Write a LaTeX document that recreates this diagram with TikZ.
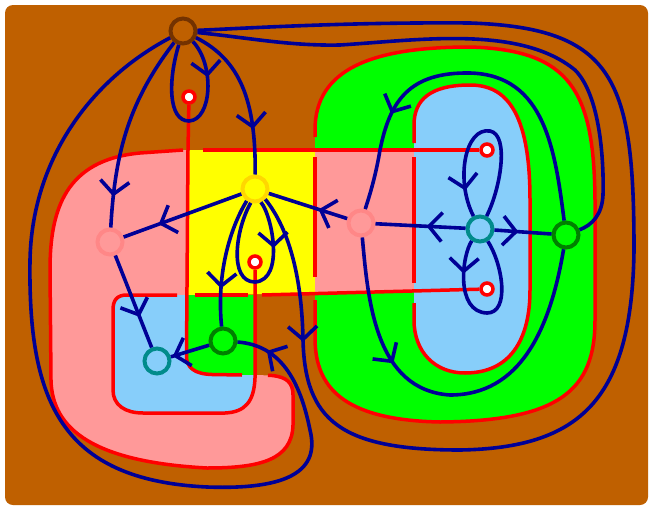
\documentclass[tikz,border=0pt]{standalone}
\usetikzlibrary{arrows.meta,decorations.markings}
\definecolor{bgbrown}{RGB}{191,96,0}
\definecolor{nbrownd}{RGB}{115,50,0}
\definecolor{pinkc}{RGB}{255,153,153}
\definecolor{pinkd}{RGB}{255,135,135}
\definecolor{lblue}{RGB}{135,206,250}
\definecolor{tealc}{RGB}{0,139,139}
\definecolor{greenc}{RGB}{0,255,0}
\definecolor{greend}{RGB}{0,128,0}
\definecolor{yellowc}{RGB}{255,255,0}
\definecolor{goldc}{RGB}{255,215,0}
\definecolor{navyc}{RGB}{0,0,150}
\definecolor{redc}{RGB}{255,0,0}
\tikzset{
  redline/.style={draw=redc,line width=3.5pt},
  edge/.style={draw=navyc,line width=3.6pt},
  arr/.style={postaction={decorate},decoration={markings,mark=at position #1 with {\arrow{Straight Barb[length=13pt,width=29pt]}}}},
  vtx/.style={circle,minimum size=25pt,inner sep=0pt,line width=4pt},
  cutpt/.style={circle,minimum size=12pt,inner sep=0pt,line width=3.5pt,draw=redc,fill=white},
}
\begin{document}
\begin{tikzpicture}[x=1pt,y=-1pt]
\useasboundingbox (0,0) rectangle (650,506);
\fill[white] (0,0) rectangle (650,506);
\fill[bgbrown,rounded corners=8pt] (5,5) rectangle (648,505);
% regions
\fill[pinkc] (188,150) -- (183,150) -- (140,153) .. controls (65,160) and (50,210) .. (50,270) -- (51,380) .. controls (52,430) and (95,462) .. (207,468) .. controls (260,468) and (292,460) .. (293,425) -- (293,395) .. controls (293,383) and (287,377) .. (272,375.5) -- (255,375) -- (255,295) -- (188,295) -- cycle;
\fill[lblue] (255,295) -- (127,295) .. controls (117,295) and (113,300) .. (113,310) -- (113,390) .. controls (113,405) and (125,413) .. (143,413) -- (225,413) .. controls (245,412) and (254,402) .. (255,378) -- cycle;
\fill[greenc] (188,295) -- (186.5,355) .. controls (186,368) and (195,374) .. (212,374.5) -- (255,375) -- (255,295) -- cycle;
\fill[yellowc] (188,150) -- (315,150) -- (315,293.6) -- (188,295) -- cycle;
\fill[greenc] (315,293) -- (315,340) .. controls (316,385) and (340,420) .. (440,422) .. controls (560,421) and (595,390) .. (595,320) -- (595,200) .. controls (594,90) and (570,50) .. (470,47) .. controls (370,47) and (315,70) .. (315,130) -- cycle;
\fill[pinkc] (315,150) -- (414,150) -- (414,290.9) -- (315,293.6) -- cycle;
\fill[lblue] (414,150) -- (414,320) .. controls (414,352) and (435,373) .. (465,373) .. controls (510,373) and (530,340) .. (530,290) -- (530,200) .. controls (530,110) and (505,85) .. (470,85) .. controls (430,85) and (414,100) .. (414,125) -- cycle;
% cut points
\node[cutpt] (C1) at (189,97) {};
\node[cutpt] (C2) at (255,262) {};
\node[cutpt] (C3) at (487,150) {};
\node[cutpt] (C4) at (487,289) {};
% red boundaries
\draw[redline] (C1) -- (188,150) -- (186.5,355) .. controls (186,368) and (195,374) .. (212,374.5) -- (242,375);
\draw[redline] (268,375.3) -- (272,375.5) .. controls (287,377) and (293,383) .. (293,395) -- (293,425) .. controls (292,460) and (260,468) .. (207,468) .. controls (95,462) and (52,430) .. (51,380) -- (50,270) .. controls (50,210) and (65,160) .. (140,153) -- (183,150);
\draw[redline] (203,150) -- (C3);
\draw[redline] (C2) -- (255,378) .. controls (254,402) and (245,412) .. (225,413) -- (143,413) .. controls (125,413) and (113,405) .. (113,390) -- (113,310) .. controls (113,300) and (117,295) .. (127,295) -- (177,295);
\draw[redline] (195,295) -- (248,295);
\draw[redline] (262,295) -- (C4);
\draw[redline] (315,157) -- (315,277);
\draw[redline] (315,300) -- (315,340) .. controls (316,385) and (340,420) .. (440,422) .. controls (560,421) and (595,390) .. (595,320) -- (595,200) .. controls (594,90) and (570,50) .. (470,47) .. controls (370,47) and (315,70) .. (315,130) -- (315,137);
\draw[redline] (414,157) -- (414,283);
\draw[redline] (414,303) -- (414,320) .. controls (414,352) and (435,373) .. (465,373) .. controls (510,373) and (530,340) .. (530,290) -- (530,200) .. controls (530,110) and (505,85) .. (470,85) .. controls (430,85) and (414,100) .. (414,125) -- (414,143);
% vertices
\node[vtx,fill=bgbrown,draw=nbrownd] (N0) at (183,31) {};
\node[vtx,fill=yellowc,draw=goldc] (Y) at (255,189) {};
\node[vtx,fill=pinkc,draw=pinkd] (P1) at (110,242) {};
\node[vtx,fill=pinkc,draw=pinkd] (P2) at (361,223) {};
\node[vtx,fill=lblue,draw=tealc] (B1) at (157,361) {};
\node[vtx,fill=lblue,draw=tealc] (B2) at (480,229) {};
\node[vtx,fill=greenc,draw=greend] (G1) at (223,341) {};
\node[vtx,fill=greenc,draw=greend] (G2) at (566,235) {};
% edges
\draw[edge,arr=168pt] (N0) .. controls (130,100) and (115,150) .. (P1);
\draw[edge,arr=39pt] (N0) .. controls (215,65) and (212,120) .. (189,121) .. controls (168,121) and (168,80) .. (N0);
\draw[edge,arr=113pt] (N0) .. controls (240,60) and (256,100) .. (Y);
\draw[edge,arr=-31pt] (N0) .. controls (90,80) and (32,160) .. (30,260) .. controls (28,400) and (60,480) .. (207,487) .. controls (290,490) and (320,470) .. (310,430) .. controls (300,380) and (280,345) .. (G1);
\draw[edge,arr=150pt] (Y.-45) .. controls (290,230) and (302,280) .. (303,340) .. controls (305,420) and (340,450) .. (460,450) .. controls (580,448) and (632,400) .. (634,250) .. controls (634,80) and (615,28) .. (470,23) .. controls (350,22) and (250,28) .. (N0);
\draw[edge] (N0) .. controls (250,38) and (290,46) .. (340,45) .. controls (420,40) and (520,25) .. (575,70) .. controls (600,95) and (604,160) .. (603,195) .. controls (602,215) and (592,225) .. (G2);
\draw[edge,arr=88pt] (Y) -- (P1);
\draw[edge,arr=30pt] (P2) -- (Y);
\draw[edge,arr=39pt] (B2) -- (P2);
\draw[edge,arr=24pt] (B2) -- (G2);
\draw[edge,arr=-27pt] (B2) .. controls (500,190) and (510,135) .. (490,131) .. controls (465,127) and (455,180) .. (B2);
\draw[edge,arr=34pt] (B2) .. controls (462,255) and (455,312) .. (487,313) .. controls (510,313) and (503,265) .. (B2);
\draw[edge,arr=-99pt] (G2) .. controls (555,150) and (545,75) .. (470,73) .. controls (410,72) and (390,100) .. (380,150) .. controls (375,180) and (368,200) .. (P2);
\draw[edge,arr=131pt] (P2) .. controls (368,300) and (375,390) .. (450,395) .. controls (520,395) and (550,330) .. (G2);
\draw[edge,arr=48pt] (Y.-66) .. controls (272,215) and (285,280) .. (255,282) .. controls (228,282) and (236,228) .. (Y.-107);
\draw[edge,arr=92pt] (Y.-125) .. controls (232,225) and (216,270) .. (G1);
\draw[edge,arr=-2pt] (G1) -- (B1);
\draw[edge,arr=66pt] (P1) -- (B1);
\end{tikzpicture}
\end{document}
